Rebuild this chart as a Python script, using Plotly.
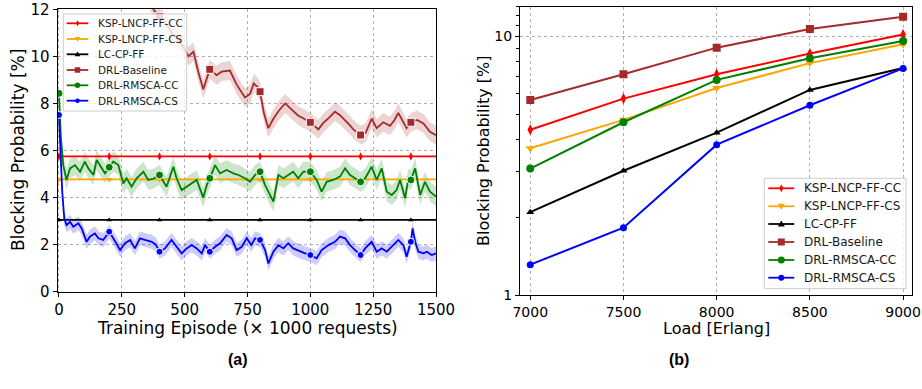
import plotly.graph_objects as go

# ---------------- data: (a) training curves ----------------
MARKER_EPISODES = [0, 200, 400, 600, 800, 1000, 1200, 1400]

ksp_cc_level = 5.75
ksp_cs_level = 4.77
lc_cp_ff_level = 3.05

baseline_x = [0, 50, 100, 150, 200, 250, 300, 350, 375, 400,
              425, 450, 475, 500, 515, 535, 554, 574, 600, 627,
              647, 680, 707, 740, 760, 775, 790, 800, 815, 833,
              853, 875, 900, 925, 950, 975, 1000, 1032, 1050, 1075,
              1098, 1118, 1138, 1155, 1171, 1200, 1220, 1244, 1264, 1290,
              1317, 1335, 1350, 1365, 1383, 1400, 1425, 1450, 1476, 1500]
baseline_y = [22, 19, 17, 15.8, 15, 14.2, 13.5, 12.8, 12.0, 11.7,
              11.4, 11.0, 10.7, 10.3, 10.0, 10.2, 9.35, 8.6, 9.45, 9.2,
              9.35, 9.4, 8.8, 8.25, 8.4, 8.85, 8.7, 8.5, 7.6, 6.95,
              7.35, 7.7, 8.0, 7.75, 7.5, 7.35, 7.2, 6.9, 7.15, 7.4,
              7.65, 7.5, 7.3, 7.1, 6.9, 6.66, 6.75, 7.35, 6.95, 7.2,
              7.05, 7.3, 7.6, 7.3, 6.95, 7.2, 7.3, 7.15, 6.8, 6.65]

cc_x = [0, 8, 17, 30, 44, 64, 84, 103, 117, 137,
        150, 170, 183, 200, 216, 236, 256, 269, 289, 309,
        336, 355, 375, 400, 428, 455, 468, 488, 508, 528,
        548, 574, 588, 600, 621, 641, 667, 694, 714, 740,
        760, 780, 800, 820, 853, 873, 893, 912, 932, 952,
        972, 1000, 1025, 1045, 1065, 1091, 1118, 1138, 1158, 1178,
        1200, 1218, 1244, 1264, 1284, 1304, 1324, 1343, 1357, 1377,
        1390, 1400, 1417, 1437, 1456, 1476, 1500]
cc_y = [8.43, 6.5, 5.38, 4.75, 5.24, 5.38, 5.1, 5.53, 5.24, 4.96,
        5.6, 5.24, 5.03, 5.29, 5.53, 5.38, 4.6, 4.82, 4.46, 4.82,
        5.1, 4.75, 4.8, 4.96, 4.46, 5.31, 4.82, 4.32, 4.46, 4.6,
        4.75, 4.0, 4.53, 4.82, 5.38, 5.03, 5.17, 5.03, 4.96, 4.82,
        4.67, 4.96, 5.1, 4.53, 3.83, 4.96, 4.82, 4.96, 5.1, 4.82,
        5.1, 5.1, 4.75, 4.25, 4.67, 4.75, 4.89, 5.24, 4.96, 4.82,
        4.67, 4.82, 5.31, 4.75, 5.24, 4.25, 4.11, 4.32, 4.75, 3.97,
        4.82, 4.75, 5.24, 4.11, 4.67, 4.25, 4.04]

cs_x = [0, 13, 21, 30, 44, 57, 77, 90, 110, 123,
        143, 157, 176, 200, 216, 243, 263, 283, 302, 322,
        342, 369, 385, 400, 422, 448, 468, 488, 508, 528,
        548, 568, 581, 600, 621, 641, 667, 687, 707, 727,
        747, 765, 780, 800, 820, 833, 853, 873, 893, 912,
        932, 959, 979, 1000, 1025, 1045, 1072, 1098, 1118, 1138,
        1158, 1178, 1200, 1218, 1244, 1264, 1284, 1304, 1324, 1350,
        1370, 1383, 1400, 1407, 1417, 1430, 1450, 1463, 1483, 1500]
cs_y = [7.51, 4.25, 3.12, 2.83, 2.97, 2.76, 2.91, 2.7, 2.12, 2.34,
        2.48, 2.27, 2.2, 2.55, 2.27, 1.77, 2.06, 2.2, 1.84, 2.27,
        2.2, 2.12, 2.0, 1.7, 1.84, 2.2, 1.91, 1.63, 1.84, 1.98,
        1.84, 1.63, 1.98, 1.7, 1.91, 2.06, 2.41, 2.27, 1.77, 1.91,
        2.27, 1.98, 2.27, 2.2, 1.77, 1.2, 1.7, 1.98, 1.84, 2.06,
        1.84, 1.7, 1.63, 1.56, 1.42, 1.77, 1.98, 2.12, 2.34, 2.27,
        1.98, 1.77, 1.56, 1.84, 2.12, 1.7, 1.84, 1.7, 1.91, 2.2,
        1.98, 1.49, 2.12, 2.69, 2.12, 1.7, 1.63, 1.7, 1.56, 1.63]

band_halfwidth = {"DRL-Baseline": 0.4, "DRL-RMSCA-CC": 0.42, "DRL-RMSCA-CS": 0.3}

# ---------------- data: (b) load sweep ----------------
loads = [7000, 7500, 8000, 8500, 9000]
bp_ksp_cc = [4.35, 5.74, 7.13, 8.57, 10.15]
bp_ksp_cs = [3.69, 4.75, 6.31, 7.87, 9.31]
bp_lc_cp_ff = [2.09, 3.02, 4.24, 6.2, 7.54]
bp_baseline = [5.67, 7.13, 9.03, 10.67, 11.88]
bp_rmsca_cc = [3.08, 4.65, 6.78, 8.22, 9.59]
bp_rmsca_cs = [1.31, 1.82, 3.81, 5.41, 7.51]

series_names = ["KSP-LNCP-FF-CC", "KSP-LNCP-FF-CS", "LC-CP-FF",
                "DRL-Baseline", "DRL-RMSCA-CC", "DRL-RMSCA-CS"]

# ---------------- styles ----------------
STY = {
    "KSP-LNCP-FF-CC": dict(color="#ff0000", symbol="diamond-tall", size=7),
    "KSP-LNCP-FF-CS": dict(color="#ffa500", symbol="triangle-down", size=7),
    "LC-CP-FF": dict(color="#000000", symbol="triangle-up", size=6),
    "DRL-Baseline": dict(color="#a52a2a", symbol="square", size=7),
    "DRL-RMSCA-CC": dict(color="#008000", symbol="circle", size=7),
    "DRL-RMSCA-CS": dict(color="#0000ff", symbol="circle", size=6),
}
BAND = {"DRL-Baseline": "rgba(165,42,42,0.2)",
        "DRL-RMSCA-CC": "rgba(0,128,0,0.2)",
        "DRL-RMSCA-CS": "rgba(0,0,255,0.2)"}
FONT = "DejaVu Sans"
W, H = 922, 389

fig = go.Figure()

# bands
for name, xs, ys in [("DRL-Baseline", baseline_x, baseline_y),
                     ("DRL-RMSCA-CC", cc_x, cc_y),
                     ("DRL-RMSCA-CS", cs_x, cs_y)]:
    hw = band_halfwidth[name]
    up = [v + hw for v in ys]
    lo = [v - hw for v in ys]
    fig.add_trace(go.Scatter(x=xs + xs[::-1], y=up + lo[::-1], fill="toself",
                             fillcolor=BAND[name], line=dict(width=0),
                             mode="lines", hoverinfo="skip", showlegend=False,
                             xaxis="x", yaxis="y"))

# horizontal reference lines (a)
for name, lvl in [("KSP-LNCP-FF-CC", ksp_cc_level), ("KSP-LNCP-FF-CS", ksp_cs_level),
                  ("LC-CP-FF", lc_cp_ff_level)]:
    s = STY[name]
    fig.add_trace(go.Scatter(x=[0, 1500], y=[lvl, lvl], mode="lines",
                             line=dict(color=s["color"], width=1.8),
                             showlegend=False, xaxis="x", yaxis="y"))
    fig.add_trace(go.Scatter(x=MARKER_EPISODES, y=[lvl] * len(MARKER_EPISODES),
                             mode="markers",
                             marker=dict(color=s["color"], symbol=s["symbol"],
                                         size=s["size"] - 1, line=dict(width=0)),
                             showlegend=False, xaxis="x", yaxis="y"))

# DRL curves (a)
for name, xs, ys in [("DRL-Baseline", baseline_x, baseline_y),
                     ("DRL-RMSCA-CC", cc_x, cc_y),
                     ("DRL-RMSCA-CS", cs_x, cs_y)]:
    s = STY[name]
    fig.add_trace(go.Scatter(x=xs, y=ys, mode="lines",
                             line=dict(color=s["color"], width=1.8),
                             showlegend=False, xaxis="x", yaxis="y"))
    my = [ys[xs.index(e)] for e in MARKER_EPISODES]
    fig.add_trace(go.Scatter(x=MARKER_EPISODES, y=my, mode="markers",
                             marker=dict(color=s["color"], symbol=s["symbol"],
                                         size=s["size"] + 1, line=dict(color="white", width=1)),
                             showlegend=False, xaxis="x", yaxis="y"))

# (b)
for name, ys in zip(series_names, [bp_ksp_cc, bp_ksp_cs, bp_lc_cp_ff,
                                   bp_baseline, bp_rmsca_cc, bp_rmsca_cs]):
    s = STY[name]
    fig.add_trace(go.Scatter(x=loads, y=ys, mode="lines+markers", name=name,
                             line=dict(color=s["color"], width=2),
                             marker=dict(color=s["color"], symbol=s["symbol"], size=s["size"] + 1),
                             showlegend=False, xaxis="x2", yaxis="y2"))


# ---------------- hand-drawn legends (matplotlib-like) ----------------
def px(x):
    return x / W


def py(y):
    return 1 - y / H


def path_from(points):
    return "M " + " L ".join(f"{px(a):.5f},{py(b):.5f}" for a, b in points) + " Z"


def marker_shape(sym, cx, cy, s, color):
    h = s / 2
    if sym == "circle":
        return dict(type="circle", xref="paper", yref="paper",
                    x0=px(cx - h), x1=px(cx + h), y0=py(cy + h), y1=py(cy - h),
                    fillcolor=color, line=dict(width=0), layer="above")
    if sym == "diamond-tall":
        pts = [(cx, cy - h * 1.1), (cx + h * 0.6, cy), (cx, cy + h * 1.1), (cx - h * 0.6, cy)]
    elif sym == "triangle-down":
        pts = [(cx - h, cy - h * 0.7), (cx + h, cy - h * 0.7), (cx, cy + h)]
    elif sym == "triangle-up":
        pts = [(cx - h, cy + h * 0.7), (cx + h, cy + h * 0.7), (cx, cy - h)]
    else:  # square
        pts = [(cx - h, cy - h), (cx + h, cy - h), (cx + h, cy + h), (cx - h, cy + h)]
    return dict(type="path", xref="paper", yref="paper", path=path_from(pts),
                fillcolor=color, line=dict(width=0), layer="above")


shapes = []
annotations = []


def add_legend(box, rows_y, line_x0, line_x1, text_x, fsize, msize):
    x0, y0, x1, y1 = box
    shapes.append(dict(type="rect", xref="paper", yref="paper",
                       x0=px(x0), x1=px(x1), y0=py(y1), y1=py(y0),
                       fillcolor="rgba(255,255,255,0.8)",
                       line=dict(color="#cccccc", width=1), layer="above"))
    for name, ry in zip(series_names, rows_y):
        s = STY[name]
        shapes.append(dict(type="line", xref="paper", yref="paper",
                           x0=px(line_x0), x1=px(line_x1), y0=py(ry), y1=py(ry),
                           line=dict(color=s["color"], width=1.8), layer="above"))
        ms = msize - (1 if name == "DRL-RMSCA-CS" else 0)
        shapes.append(marker_shape(s["symbol"], (line_x0 + line_x1) / 2, ry, ms, s["color"]))
        annotations.append(dict(text=name, x=px(text_x), y=py(ry), xref="paper", yref="paper",
                                xanchor="left", yanchor="middle", showarrow=False,
                                xshift=-1, font=dict(family=FONT, size=fsize, color="#1a1a1a")))


add_legend((63.3, 14, 186.7, 111), [23.3, 39.0, 54.3, 70.0, 85.3, 100.7],
           66.7, 88.3, 97.3, 10.5, 5.5)
add_legend((764.3, 178.3, 906, 288.7), [188.3, 206.3, 224.0, 242.0, 260.0, 277.7],
           768.3, 794.3, 803.3, 12, 7)


def title_ann(text, cx, cy, size, angle=0):
    return dict(text=text, x=px(cx), y=py(cy), xref="paper", yref="paper",
                xanchor="center", yanchor="middle", showarrow=False, textangle=angle,
                borderpad=0, font=dict(family=FONT, size=size, color="black"))


annotations += [
    title_ann("Training Episode (× 1000 requests)", 247, 327.5, 17),
    title_ann("Blocking Probability [%]", 18, 150, 17, -90),
    title_ann("Load [Erlang]", 716.7, 328.5, 16),
    title_ann("Blocking Probability [%]", 484, 151, 16, -90),
    dict(text="<b>(a)</b>", x=px(226), y=py(370), xref="paper", yref="paper",
         showarrow=False, font=dict(family="Liberation Sans", size=16, color="black")),
    dict(text="<b>(b)</b>", x=px(691), y=py(370), xref="paper", yref="paper",
         showarrow=False, font=dict(family="Liberation Sans", size=16, color="black")),
]


def axis_style(tick_size):
    return dict(showgrid=True, gridcolor="#b0b0b0", griddash="dot", gridwidth=1,
                showline=True, linecolor="black", linewidth=1.3, mirror=True,
                ticks="outside", ticklen=4, tickwidth=1.2, tickcolor="black",
                zeroline=False, automargin=False,
                tickfont=dict(family=FONT, size=tick_size, color="black"))


fig.update_layout(
    width=W, height=H, margin=dict(l=0, r=0, t=0, b=0, autoexpand=False),
    plot_bgcolor="white", paper_bgcolor="white",
    font=dict(family=FONT, color="black"),
    showlegend=False,
    xaxis=dict(domain=[0.0626, 0.4729], range=[-5, 1500],
               tickvals=[0, 250, 500, 750, 1000, 1250, 1500],
               anchor="y", **axis_style(15)),
    yaxis=dict(domain=[0.2501, 0.976], range=[0, 12], tickvals=[0, 2, 4, 6, 8, 10, 12],
               anchor="x", **axis_style(15)),
    xaxis2=dict(domain=[0.564, 0.989], range=[6945, 9047],
                tickvals=[7000, 7500, 8000, 8500, 9000],
                anchor="y2", **axis_style(14)),
    yaxis2=dict(domain=[0.2416, 0.9828], type="log", range=[0, 1.114],
                tickvals=[1, 10], ticktext=["1", "10"],
                minor=dict(tickvals=[2, 3, 4, 5, 6, 7, 8, 9, 11, 12, 13], ticks="outside",
                           ticklen=2.5, tickcolor="black", showgrid=False),
                anchor="x2", **axis_style(14)),
    shapes=shapes,
    annotations=annotations,
)

fig.write_html("out.html", config={"displayModeBar": False},
               post_script="document.body.style.margin='0px';")
